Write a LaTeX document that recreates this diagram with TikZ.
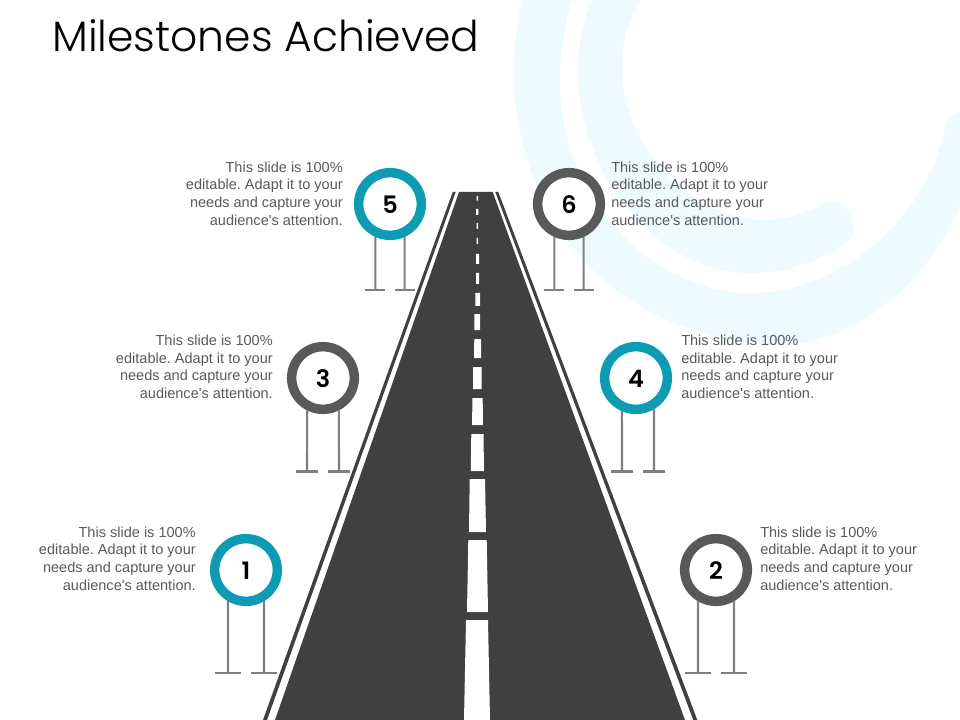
\documentclass[tikz,border=0pt]{standalone}
\usepackage{fontspec}
\setmainfont{Liberation Sans}[Ligatures=TeXOff]
\newfontfamily\titlefont{Poppins}[UprightFont=* Light]
\newfontfamily\numfont{Poppins}[UprightFont=* SemiBold]
\frenchspacing
\begin{document}
\begin{tikzpicture}[x=0.75pt,y=0.75pt,yscale=-1,xscale=1,
  signring/.style={circle,line width=7.1pt,fill=white,minimum size=47pt,inner sep=0pt,font=\numfont\fontsize{18}{20}\selectfont,text=black,text height=14.8pt,text depth=0pt},
  tealsign/.style={signring,draw={rgb, 255:red, 14; green, 155; blue, 180 }},
  greysign/.style={signring,draw={rgb, 255:red, 89; green, 89; blue, 89 }},
  signpost/.style={draw={rgb, 255:red, 127; green, 127; blue, 127 },line width=1.6pt},
  signfoot/.style={fill={rgb, 255:red, 127; green, 127; blue, 127 },minimum width=#1,minimum height=1.6pt,inner sep=0pt,outer sep=0pt},
  blurb/.style={inner sep=0pt,text={rgb, 255:red, 89; green, 89; blue, 89 },font=\fontsize{10.9}{13.2}\selectfont}]
\useasboundingbox (0,0) rectangle (960,720);
\draw  [draw opacity=0][fill={rgb, 255:red, 237; green, 251; blue, 254 }  ,fill opacity=1 ] (522,0) .. controls (516,25) and (514,50) .. (514,75) .. controls (514,150) and (545,225) .. (600,277) .. controls (630,305) and (700,345) .. (775,345) .. controls (850,345) and (925,290) .. (960,205) -- (960,112) .. controls (950,115) and (945,125) .. (943,135) .. controls (925,215) and (845,293) .. (750,293) .. controls (650,293) and (560,195) .. (560,83) .. controls (560,55) and (564,25) .. (572,0) -- cycle ;
\draw  [draw opacity=0][fill={rgb, 255:red, 237; green, 251; blue, 254 }  ,fill opacity=1 ] (592,0) .. controls (583,22) and (578,45) .. (578,67) .. controls (578,180) and (660,273) .. (750,273) .. controls (785,273) and (820,262) .. (845,243) .. controls (855,236) and (855,225) .. (850,215) .. controls (846,205) and (838,199) .. (826,203) .. controls (805,213) and (785,220) .. (765,220) .. controls (690,220) and (622,145) .. (622,67) .. controls (622,42) and (628,20) .. (640,0) -- cycle ;
\draw  [draw opacity=0][fill={rgb, 255:red, 64; green, 64; blue, 64 }  ,fill opacity=1 ] (459,192) -- (492.7,192) -- (685,720) -- (275,720) -- cycle ;
\draw  [draw opacity=0][fill={rgb, 255:red, 64; green, 64; blue, 64 }  ,fill opacity=1 ] (452.7,192) -- (455.7,192) -- (267,720) -- (263,720) -- cycle ;
\draw  [draw opacity=0][fill={rgb, 255:red, 64; green, 64; blue, 64 }  ,fill opacity=1 ] (495.3,192) -- (498.3,192) -- (697.3,720) -- (693.3,720) -- cycle ;
\draw  [draw opacity=0][fill={rgb, 255:red, 255; green, 255; blue, 255 }  ,fill opacity=1 ]
  (476.6,196) -- (478,196) -- (478,200.7) -- (476.6,200.7) -- cycle
  (476,209) -- (478.3,209) -- (478.3,215) -- (476,215) -- cycle
  (476.6,223) -- (478,223) -- (478,229) -- (476.6,229) -- cycle
  (476.6,238) -- (478,238) -- (478,244) -- (476.6,244) -- cycle
  (476,254) -- (479,254) -- (479,264) -- (476,264) -- cycle
  (476,273) -- (479,273) -- (479,284) -- (476,284) -- cycle
  (475.3,293) -- (480,293) -- (480,306) -- (475.3,306) -- cycle
  (474.3,314) -- (480,314) -- (480,330) -- (474.3,330) -- cycle
  (474.3,339) -- (481,339) -- (481,358) -- (474,358) -- cycle
  (473.2,367) -- (481.7,367) -- (481.7,389) -- (473,389) -- cycle
  (472.5,398) -- (482.7,398) -- (482.9,425) -- (472,425) -- cycle
  (471.3,434) -- (483.5,434) -- (484,471) -- (470.8,471) -- cycle
  (469.7,479) -- (485,479) -- (486,532) -- (469,532) -- cycle
  (468.3,540) -- (486.7,540) -- (488,612) -- (467,612) -- cycle
  (466,620) -- (488,620) -- (490,720) -- (464,720) -- cycle ;
\draw (52,52) node [anchor=base west] [inner sep=0pt] (heading) {\titlefont\fontsize{31.85}{38}\selectfont Milestones Achieved};
\draw (246,570) node [tealsign] (sign1) {1};
\draw (716,570) node [greysign] (sign2) {2};
\draw (323,378) node [greysign] (sign3) {3};
\draw (636,378) node [tealsign] (sign4) {4};
\draw (390,204) node [tealsign] (sign5) {5};
\draw (569,204) node [greysign] (sign6) {6};
\draw (228,673) node [signfoot=19.5pt] (foot1a) {};
\draw (264,673) node [signfoot=19.5pt] (foot1b) {};
\draw (698,673) node [signfoot=19.5pt] (foot2a) {};
\draw (734,673) node [signfoot=19.5pt] (foot2b) {};
\draw (307,471.5) node [signfoot=16.5pt] (foot3a) {};
\draw (339,471.5) node [signfoot=16.5pt] (foot3b) {};
\draw (622,471.5) node [signfoot=16.5pt] (foot4a) {};
\draw (654,471.5) node [signfoot=16.5pt] (foot4b) {};
\draw (375.4,290) node [signfoot=15pt] (foot5a) {};
\draw (404.6,290) node [signfoot=15pt] (foot5b) {};
\draw (554.4,290) node [signfoot=15pt] (foot6a) {};
\draw (583.6,290) node [signfoot=15pt] (foot6b) {};
\draw [signpost] (sign1.-120) -- (foot1a) ;
\draw [signpost] (sign1.-60) -- (foot1b) ;
\draw [signpost] (sign2.-120) -- (foot2a) ;
\draw [signpost] (sign2.-60) -- (foot2b) ;
\draw [signpost] (sign3.-116) -- (foot3a) ;
\draw [signpost] (sign3.-64) -- (foot3b) ;
\draw [signpost] (sign4.-113) -- (foot4a) ;
\draw [signpost] (sign4.-60) -- (foot4b) ;
\draw [signpost] (sign5.-114) -- (foot5a) ;
\draw [signpost] (sign5.-66) -- (foot5b) ;
\draw [signpost] (sign6.-114) -- (foot6a) ;
\draw [signpost] (sign6.-66) -- (foot6b) ;
\draw (196,558.5) node [anchor=east,align=right,blurb] (blurb1) {This slide is 100\%\\editable. Adapt it to your\\needs and capture your\\audience's attention.};
\draw (760,558.5) node [anchor=west,align=left,blurb] (blurb2) {This slide is 100\%\\editable. Adapt it to your\\needs and capture your\\audience's attention.};
\draw (273,367) node [anchor=east,align=right,blurb] (blurb3) {This slide is 100\%\\editable. Adapt it to your\\needs and capture your\\audience's attention.};
\draw (681,367) node [anchor=west,align=left,blurb] (blurb4) {This slide is 100\%\\editable. Adapt it to your\\needs and capture your\\audience's attention.};
\draw (343,193.5) node [anchor=east,align=right,blurb] (blurb5) {This slide is 100\%\\editable. Adapt it to your\\needs and capture your\\audience's attention.};
\draw (611,193.5) node [anchor=west,align=left,blurb] (blurb6) {This slide is 100\%\\editable. Adapt it to your\\needs and capture your\\audience's attention.};
\end{tikzpicture}
\end{document}
